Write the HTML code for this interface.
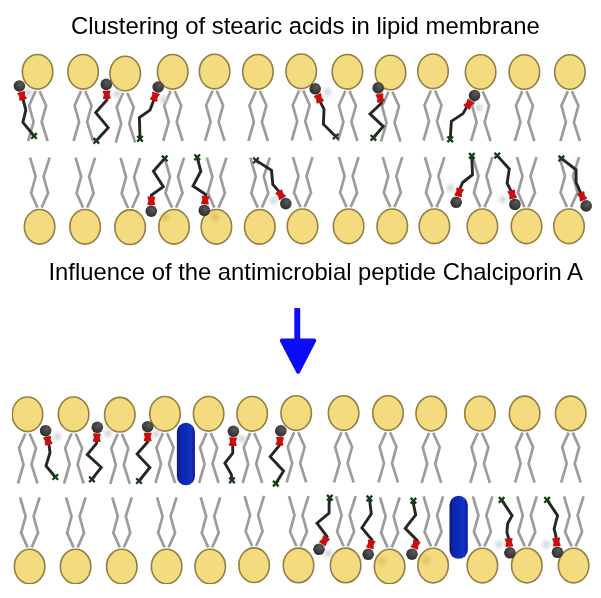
<!DOCTYPE html><html><head><meta charset="utf-8"><style>html,body{margin:0;padding:0;background:#fff}svg{display:block}</style></head><body>
<svg width="601" height="598" viewBox="0 0 601 598">
<defs><radialGradient id="ball" cx="0.6" cy="0.35" r="0.7"><stop offset="0" stop-color="#5a5a5a"/><stop offset="1" stop-color="#2a2a2a"/></radialGradient><filter id="soft" x="0" y="0" width="1" height="1"><feGaussianBlur stdDeviation="0.45"/></filter><radialGradient id="smudge"><stop offset="0" stop-color="#c09038" stop-opacity="0.35"/><stop offset="1" stop-color="#b09040" stop-opacity="0"/></radialGradient><radialGradient id="blob"><stop offset="0" stop-color="#c8ccd0" stop-opacity="0.8"/><stop offset="1" stop-color="#c8ccd0" stop-opacity="0"/></radialGradient><linearGradient id="cap" x1="0" x2="1" y1="0" y2="0"><stop offset="0" stop-color="#081478"/><stop offset="0.18" stop-color="#0c24a8"/><stop offset="0.5" stop-color="#0f2cb8"/><stop offset="0.8" stop-color="#1232c4"/><stop offset="1" stop-color="#0a188a"/></linearGradient></defs>
<rect width="601" height="598" fill="#fff"/>
<g filter="url(#soft)">
<g font-family="Liberation Sans, sans-serif" font-size="23.9" fill="#000">
<text x="71" y="33.8">Clustering of stearic acids in lipid membrane</text>
<text x="48.5" y="280.4" font-size="23.8">Influence of the antimicrobial peptide Chalciporin A</text>
</g>
<g fill="none" stroke="#9c9c9c" stroke-width="2.7" stroke-linejoin="miter">
<polyline points="35.6,91.0 29.1,105.5 33.6,122.0 28.1,141.0"/><polyline points="39.6,91.0 46.1,105.5 41.6,122.0 47.6,141.0"/>
<polyline points="81.1,91.0 74.6,105.5 79.1,122.0 73.6,141.0"/><polyline points="85.1,91.0 91.6,105.5 87.1,122.0 93.1,141.0"/>
<polyline points="123.2,92.7 116.7,107.2 121.2,123.7 115.7,142.7"/><polyline points="127.2,92.7 133.7,107.2 129.2,123.7 135.2,142.7"/>
<polyline points="170.7,91.0 164.2,105.5 168.7,122.0 163.2,141.0"/><polyline points="174.7,91.0 181.2,105.5 176.7,122.0 182.7,141.0"/>
<polyline points="212.6,90.8 206.1,105.3 210.6,121.8 205.1,140.8"/><polyline points="216.6,90.8 223.1,105.3 218.6,121.8 224.6,140.8"/>
<polyline points="255.9,91.0 249.4,105.5 253.9,122.0 248.4,141.0"/><polyline points="259.9,91.0 266.4,105.5 261.9,122.0 267.9,141.0"/>
<polyline points="299.2,90.5 292.7,105.0 297.2,121.5 291.7,140.5"/><polyline points="303.2,90.5 309.7,105.0 305.2,121.5 311.2,140.5"/>
<polyline points="345.4,91.0 338.9,105.5 343.4,122.0 337.9,141.0"/><polyline points="349.4,91.0 355.9,105.5 351.4,122.0 357.4,141.0"/>
<polyline points="388.5,91.7 382.0,106.2 386.5,122.7 381.0,141.7"/><polyline points="392.5,91.7 399.0,106.2 394.5,122.7 400.5,141.7"/>
<polyline points="431.0,90.5 424.5,105.0 429.0,121.5 423.5,140.5"/><polyline points="435.0,90.5 441.5,105.0 437.0,121.5 443.0,140.5"/>
<polyline points="478.6,91.2 472.1,105.7 476.6,122.2 471.1,141.2"/><polyline points="482.6,91.2 489.1,105.7 484.6,122.2 490.6,141.2"/>
<polyline points="522.4,91.2 515.9,105.7 520.4,122.2 514.9,141.2"/><polyline points="526.4,91.2 532.9,105.7 528.4,122.2 534.4,141.2"/>
<polyline points="567.9,91.2 561.4,105.7 565.9,122.2 560.4,141.2"/><polyline points="571.9,91.2 578.4,105.7 573.9,122.2 579.9,141.2"/>
<polyline points="37.6,207.6 31.1,193.1 35.6,176.6 30.1,157.6"/><polyline points="41.6,207.6 48.1,193.1 43.6,176.6 49.6,157.6"/>
<polyline points="83.1,207.6 76.6,193.1 81.1,176.6 75.6,157.6"/><polyline points="87.1,207.6 93.6,193.1 89.1,176.6 95.1,157.6"/>
<polyline points="128.1,208.0 121.6,193.5 126.1,177.0 120.6,158.0"/><polyline points="132.1,208.0 138.6,193.5 134.1,177.0 140.1,158.0"/>
<polyline points="172.0,207.6 165.5,193.1 170.0,176.6 164.5,157.6"/><polyline points="176.0,207.6 182.5,193.1 178.0,176.6 184.0,157.6"/>
<polyline points="214.4,207.6 207.9,193.1 212.4,176.6 206.9,157.6"/><polyline points="218.4,207.6 224.9,193.1 220.4,176.6 226.4,157.6"/>
<polyline points="257.8,207.6 251.3,193.1 255.8,176.6 250.3,157.6"/><polyline points="261.8,207.6 268.3,193.1 263.8,176.6 269.8,157.6"/>
<polyline points="300.5,207.1 294.0,192.6 298.5,176.1 293.0,157.1"/><polyline points="304.5,207.1 311.0,192.6 306.5,176.1 312.5,157.1"/>
<polyline points="346.6,207.1 340.1,192.6 344.6,176.1 339.1,157.1"/><polyline points="350.6,207.1 357.1,192.6 352.6,176.1 358.6,157.1"/>
<polyline points="390.3,207.1 383.8,192.6 388.3,176.1 382.8,157.1"/><polyline points="394.3,207.1 400.8,192.6 396.3,176.1 402.3,157.1"/>
<polyline points="432.4,207.1 425.9,192.6 430.4,176.1 424.9,157.1"/><polyline points="436.4,207.1 442.9,192.6 438.4,176.1 444.4,157.1"/>
<polyline points="480.4,207.1 473.9,192.6 478.4,176.1 472.9,157.1"/><polyline points="484.4,207.1 490.9,192.6 486.4,176.1 492.4,157.1"/>
<polyline points="524.5,207.1 518.0,192.6 522.5,176.1 517.0,157.1"/><polyline points="528.5,207.1 535.0,192.6 530.5,176.1 536.5,157.1"/>
<polyline points="567.0,207.1 560.5,192.6 565.0,176.1 559.5,157.1"/><polyline points="571.0,207.1 577.5,192.6 573.0,176.1 579.0,157.1"/>
<polyline points="25.5,433.5 19.0,448.0 23.5,464.5 18.0,483.5"/><polyline points="29.5,433.5 36.0,448.0 31.5,464.5 37.5,483.5"/>
<polyline points="71.6,433.5 65.1,448.0 69.6,464.5 64.1,483.5"/><polyline points="75.6,433.5 82.1,448.0 77.6,464.5 83.6,483.5"/>
<polyline points="117.8,433.9 111.3,448.4 115.8,464.9 110.3,483.9"/><polyline points="121.8,433.9 128.3,448.4 123.8,464.9 129.8,483.9"/>
<polyline points="163.0,433.0 156.5,447.5 161.0,464.0 155.5,483.0"/><polyline points="167.0,433.0 173.5,447.5 169.0,464.0 175.0,483.0"/>
<polyline points="206.6,433.0 200.1,447.5 204.6,464.0 199.1,483.0"/><polyline points="210.6,433.0 217.1,447.5 212.6,464.0 218.6,483.0"/>
<polyline points="250.2,433.0 243.7,447.5 248.2,464.0 242.7,483.0"/><polyline points="254.2,433.0 260.7,447.5 256.2,464.0 262.2,483.0"/>
<polyline points="294.2,432.3 287.7,446.8 292.2,463.3 286.7,482.3"/><polyline points="298.2,432.3 304.7,446.8 300.2,463.3 306.2,482.3"/>
<polyline points="341.6,432.3 335.1,446.8 339.6,463.3 334.1,482.3"/><polyline points="345.6,432.3 352.1,446.8 347.6,463.3 353.6,482.3"/>
<polyline points="386.0,432.3 379.5,446.8 384.0,463.3 378.5,482.3"/><polyline points="390.0,432.3 396.5,446.8 392.0,463.3 398.0,482.3"/>
<polyline points="429.2,432.8 422.7,447.3 427.2,463.8 421.7,482.8"/><polyline points="433.2,432.8 439.7,447.3 435.2,463.8 441.2,482.8"/>
<polyline points="477.9,432.8 471.4,447.3 475.9,463.8 470.4,482.8"/><polyline points="481.9,432.8 488.4,447.3 483.9,463.8 489.9,482.8"/>
<polyline points="522.6,432.6 516.1,447.1 520.6,463.6 515.1,482.6"/><polyline points="526.6,432.6 533.1,447.1 528.6,463.6 534.6,482.6"/>
<polyline points="568.7,432.6 562.2,447.1 566.7,463.6 561.2,482.6"/><polyline points="572.7,432.6 579.2,447.1 574.7,463.6 580.7,482.6"/>
<polyline points="27.6,547.4 21.1,532.9 25.6,516.4 20.1,497.4"/><polyline points="31.6,547.4 38.1,532.9 33.6,516.4 39.6,497.4"/>
<polyline points="73.6,547.4 67.1,532.9 71.6,516.4 66.1,497.4"/><polyline points="77.6,547.4 84.1,532.9 79.6,516.4 85.6,497.4"/>
<polyline points="119.8,547.4 113.3,532.9 117.8,516.4 112.3,497.4"/><polyline points="123.8,547.4 130.3,532.9 125.8,516.4 131.8,497.4"/>
<polyline points="164.6,547.4 158.1,532.9 162.6,516.4 157.1,497.4"/><polyline points="168.6,547.4 175.1,532.9 170.6,516.4 176.6,497.4"/>
<polyline points="208.2,547.4 201.7,532.9 206.2,516.4 200.7,497.4"/><polyline points="212.2,547.4 218.7,532.9 214.2,516.4 220.2,497.4"/>
<polyline points="252.1,546.0 245.6,531.5 250.1,515.0 244.6,496.0"/><polyline points="256.1,546.0 262.6,531.5 258.1,515.0 264.1,496.0"/>
<polyline points="296.5,546.2 290.0,531.7 294.5,515.2 289.0,496.2"/><polyline points="300.5,546.2 307.0,531.7 302.5,515.2 308.5,496.2"/>
<polyline points="343.6,546.2 337.1,531.7 341.6,515.2 336.1,496.2"/><polyline points="347.6,546.2 354.1,531.7 349.6,515.2 355.6,496.2"/>
<polyline points="387.6,547.4 381.1,532.9 385.6,516.4 380.1,497.4"/><polyline points="391.6,547.4 398.1,532.9 393.6,516.4 399.6,497.4"/>
<polyline points="431.1,546.4 424.6,531.9 429.1,515.4 423.6,496.4"/><polyline points="435.1,546.4 441.6,531.9 437.1,515.4 443.1,496.4"/>
<polyline points="480.4,546.4 473.9,531.9 478.4,515.4 472.9,496.4"/><polyline points="484.4,546.4 490.9,531.9 486.4,515.4 492.4,496.4"/>
<polyline points="524.8,546.4 518.3,531.9 522.8,515.4 517.3,496.4"/><polyline points="528.8,546.4 535.3,531.9 530.8,515.4 536.8,496.4"/>
<polyline points="571.6,546.4 565.1,531.9 569.6,515.4 564.1,496.4"/><polyline points="575.6,546.4 582.1,531.9 577.6,515.4 583.6,496.4"/>
</g>
<g fill="#f5db80" stroke="#927f42" stroke-width="1.6">
<ellipse cx="37.6" cy="71.8" rx="15.25" ry="17.3"/>
<ellipse cx="83.1" cy="71.8" rx="15.25" ry="17.3"/>
<ellipse cx="125.2" cy="73.5" rx="15.25" ry="17.3"/>
<ellipse cx="172.7" cy="71.8" rx="15.25" ry="17.3"/>
<ellipse cx="214.6" cy="71.6" rx="15.25" ry="17.3"/>
<ellipse cx="257.9" cy="71.8" rx="15.25" ry="17.3"/>
<ellipse cx="301.2" cy="71.3" rx="15.25" ry="17.3"/>
<ellipse cx="347.4" cy="71.8" rx="15.25" ry="17.3"/>
<ellipse cx="390.5" cy="72.5" rx="15.25" ry="17.3"/>
<ellipse cx="433.0" cy="71.3" rx="15.25" ry="17.3"/>
<ellipse cx="480.6" cy="72.0" rx="15.25" ry="17.3"/>
<ellipse cx="524.4" cy="72.0" rx="15.25" ry="17.3"/>
<ellipse cx="569.9" cy="72.0" rx="15.25" ry="17.3"/>
<ellipse cx="39.6" cy="226.8" rx="15.25" ry="17.3"/>
<ellipse cx="85.1" cy="226.8" rx="15.25" ry="17.3"/>
<ellipse cx="130.1" cy="227.2" rx="15.25" ry="17.3"/>
<ellipse cx="174.0" cy="226.8" rx="15.25" ry="17.3"/>
<ellipse cx="216.4" cy="226.8" rx="15.25" ry="17.3"/>
<ellipse cx="259.8" cy="226.8" rx="15.25" ry="17.3"/>
<ellipse cx="302.5" cy="226.3" rx="15.25" ry="17.3"/>
<ellipse cx="348.6" cy="226.3" rx="15.25" ry="17.3"/>
<ellipse cx="392.3" cy="226.3" rx="15.25" ry="17.3"/>
<ellipse cx="434.4" cy="226.3" rx="15.25" ry="17.3"/>
<ellipse cx="482.4" cy="226.3" rx="15.25" ry="17.3"/>
<ellipse cx="526.5" cy="226.3" rx="15.25" ry="17.3"/>
<ellipse cx="569.0" cy="226.3" rx="15.25" ry="17.3"/>
<ellipse cx="27.5" cy="414.3" rx="15.25" ry="17.3"/>
<ellipse cx="73.6" cy="414.3" rx="15.25" ry="17.3"/>
<ellipse cx="119.8" cy="414.7" rx="15.25" ry="17.3"/>
<ellipse cx="165.0" cy="413.8" rx="15.25" ry="17.3"/>
<ellipse cx="208.6" cy="413.8" rx="15.25" ry="17.3"/>
<ellipse cx="252.2" cy="413.8" rx="15.25" ry="17.3"/>
<ellipse cx="296.2" cy="413.1" rx="15.25" ry="17.3"/>
<ellipse cx="343.6" cy="413.1" rx="15.25" ry="17.3"/>
<ellipse cx="388.0" cy="413.1" rx="15.25" ry="17.3"/>
<ellipse cx="431.2" cy="413.6" rx="15.25" ry="17.3"/>
<ellipse cx="479.9" cy="413.6" rx="15.25" ry="17.3"/>
<ellipse cx="524.6" cy="413.4" rx="15.25" ry="17.3"/>
<ellipse cx="570.7" cy="413.4" rx="15.25" ry="17.3"/>
<ellipse cx="29.6" cy="566.6" rx="15.25" ry="17.3"/>
<ellipse cx="75.6" cy="566.6" rx="15.25" ry="17.3"/>
<ellipse cx="121.8" cy="566.6" rx="15.25" ry="17.3"/>
<ellipse cx="166.6" cy="566.6" rx="15.25" ry="17.3"/>
<ellipse cx="210.2" cy="566.6" rx="15.25" ry="17.3"/>
<ellipse cx="254.1" cy="565.2" rx="15.25" ry="17.3"/>
<ellipse cx="298.5" cy="565.4" rx="15.25" ry="17.3"/>
<ellipse cx="345.6" cy="565.4" rx="15.25" ry="17.3"/>
<ellipse cx="389.6" cy="566.6" rx="15.25" ry="17.3"/>
<ellipse cx="433.1" cy="565.6" rx="15.25" ry="17.3"/>
<ellipse cx="482.4" cy="565.6" rx="15.25" ry="17.3"/>
<ellipse cx="526.8" cy="565.6" rx="15.25" ry="17.3"/>
<ellipse cx="573.6" cy="565.6" rx="15.25" ry="17.3"/>
</g>
<circle cx="215" cy="217" r="7" fill="url(#smudge)"/>
<circle cx="165" cy="217" r="7" fill="url(#smudge)"/>
<circle cx="381.7" cy="561.7" r="7" fill="url(#smudge)"/>
<circle cx="425.8" cy="560" r="7" fill="url(#smudge)"/>
<circle cx="28" cy="93" r="6.5" fill="url(#blob)"/><polyline points="22.1,95.9 23.5,101 25.8,110.1 22.9,122.4 34,135.9" fill="none" stroke="#262626" stroke-width="2.9" stroke-linejoin="miter"/><g transform="translate(22.1,95.9) rotate(-15.3)"><path d="M-3.3,-4.2 L3.3,-4.2 Q4.1,-4.2 3.9,-3.3 L2.9,0 L3.9,3.3 Q4.1,4.2 3.3,4.2 L-3.3,4.2 Q-4.1,4.2 -3.9,3.3 L-2.9,0 L-3.9,-3.3 Q-4.1,-4.2 -3.3,-4.2 Z" fill="#cc1010"/></g><circle cx="19.4" cy="86" r="5.8" fill="url(#ball)"/><g transform="translate(34,135.9)" stroke="#183c18" stroke-width="2.3"><line x1="-2.8" y1="-2.8" x2="2.8" y2="2.8"/><line x1="-2.8" y1="2.8" x2="2.8" y2="-2.8"/></g>
<circle cx="117" cy="94" r="6.5" fill="url(#blob)"/><polyline points="106.7,94.7 106.9,100 95.7,112.6 108.2,127.6 96.3,140.8" fill="none" stroke="#262626" stroke-width="2.9" stroke-linejoin="miter"/><g transform="translate(106.7,94.7) rotate(-2.2)"><path d="M-3.3,-4.2 L3.3,-4.2 Q4.1,-4.2 3.9,-3.3 L2.9,0 L3.9,3.3 Q4.1,4.2 3.3,4.2 L-3.3,4.2 Q-4.1,4.2 -3.9,3.3 L-2.9,0 L-3.9,-3.3 Q-4.1,-4.2 -3.3,-4.2 Z" fill="#cc1010"/></g><circle cx="106.3" cy="84.4" r="5.8" fill="url(#ball)"/><g transform="translate(96.3,140.8)" stroke="#183c18" stroke-width="2.3"><line x1="-2.8" y1="-2.8" x2="2.8" y2="2.8"/><line x1="-2.8" y1="2.8" x2="2.8" y2="-2.8"/></g>
<circle cx="164" cy="100" r="6.5" fill="url(#blob)"/><polyline points="154.8,96.7 152.6,103.2 150,110.1 139.4,117.6 140,138.8" fill="none" stroke="#262626" stroke-width="2.9" stroke-linejoin="miter"/><g transform="translate(154.8,96.7) rotate(19.1)"><path d="M-3.3,-4.2 L3.3,-4.2 Q4.1,-4.2 3.9,-3.3 L2.9,0 L3.9,3.3 Q4.1,4.2 3.3,4.2 L-3.3,4.2 Q-4.1,4.2 -3.9,3.3 L-2.9,0 L-3.9,-3.3 Q-4.1,-4.2 -3.3,-4.2 Z" fill="#cc1010"/></g><circle cx="158.2" cy="87" r="5.8" fill="url(#ball)"/><g transform="translate(140,138.8)" stroke="#183c18" stroke-width="2.3"><line x1="-2.8" y1="-2.8" x2="2.8" y2="2.8"/><line x1="-2.8" y1="2.8" x2="2.8" y2="-2.8"/></g>
<circle cx="327.5" cy="92" r="6.5" fill="url(#blob)"/><polyline points="318.9,98.4 320.5,102.5 324,109 323.4,124.2 335.7,136.5" fill="none" stroke="#262626" stroke-width="2.9" stroke-linejoin="miter"/><g transform="translate(318.9,98.4) rotate(-21.1)"><path d="M-3.3,-4.2 L3.3,-4.2 Q4.1,-4.2 3.9,-3.3 L2.9,0 L3.9,3.3 Q4.1,4.2 3.3,4.2 L-3.3,4.2 Q-4.1,4.2 -3.9,3.3 L-2.9,0 L-3.9,-3.3 Q-4.1,-4.2 -3.3,-4.2 Z" fill="#cc1010"/></g><circle cx="315.2" cy="88.8" r="5.8" fill="url(#ball)"/><g transform="translate(335.7,136.5)" stroke="#183c18" stroke-width="2.3"><line x1="-2.8" y1="-2.8" x2="2.8" y2="2.8"/><line x1="-2.8" y1="2.8" x2="2.8" y2="-2.8"/></g>
<polyline points="380.2,98.0 381.3,103.2 370,113.9 383.2,126.4 373.4,137.8" fill="none" stroke="#262626" stroke-width="2.9" stroke-linejoin="miter"/><g transform="translate(380.2,98.0) rotate(-11.5)"><path d="M-3.3,-4.2 L3.3,-4.2 Q4.1,-4.2 3.9,-3.3 L2.9,0 L3.9,3.3 Q4.1,4.2 3.3,4.2 L-3.3,4.2 Q-4.1,4.2 -3.9,3.3 L-2.9,0 L-3.9,-3.3 Q-4.1,-4.2 -3.3,-4.2 Z" fill="#cc1010"/></g><circle cx="378.2" cy="87.9" r="5.8" fill="url(#ball)"/><g transform="translate(373.4,137.8)" stroke="#183c18" stroke-width="2.3"><line x1="-2.8" y1="-2.8" x2="2.8" y2="2.8"/><line x1="-2.8" y1="2.8" x2="2.8" y2="-2.8"/></g>
<circle cx="478.9" cy="107.7" r="6.5" fill="url(#blob)"/><polyline points="468.8,104.1 466,108.3 463,113.6 451.4,121.2 450.2,139.3" fill="none" stroke="#262626" stroke-width="2.9" stroke-linejoin="miter"/><g transform="translate(468.8,104.1) rotate(33.6)"><path d="M-3.3,-4.2 L3.3,-4.2 Q4.1,-4.2 3.9,-3.3 L2.9,0 L3.9,3.3 Q4.1,4.2 3.3,4.2 L-3.3,4.2 Q-4.1,4.2 -3.9,3.3 L-2.9,0 L-3.9,-3.3 Q-4.1,-4.2 -3.3,-4.2 Z" fill="#cc1010"/></g><circle cx="474.5" cy="95.5" r="5.8" fill="url(#ball)"/><g transform="translate(450.2,139.3)" stroke="#183c18" stroke-width="2.3"><line x1="-2.8" y1="-2.8" x2="2.8" y2="2.8"/><line x1="-2.8" y1="2.8" x2="2.8" y2="-2.8"/></g>
<polyline points="151.3,200.8 151.3,195.2 163.3,186.7 153.4,171.2 164.7,158.4" fill="none" stroke="#262626" stroke-width="2.9" stroke-linejoin="miter"/><g transform="translate(151.3,200.8) rotate(-180.0)"><path d="M-3.3,-4.2 L3.3,-4.2 Q4.1,-4.2 3.9,-3.3 L2.9,0 L3.9,3.3 Q4.1,4.2 3.3,4.2 L-3.3,4.2 Q-4.1,4.2 -3.9,3.3 L-2.9,0 L-3.9,-3.3 Q-4.1,-4.2 -3.3,-4.2 Z" fill="#cc1010"/></g><circle cx="151.3" cy="211.1" r="5.8" fill="url(#ball)"/><g transform="translate(164.7,158.4)" stroke="#183c18" stroke-width="2.3"><line x1="-2.8" y1="-2.8" x2="2.8" y2="2.8"/><line x1="-2.8" y1="2.8" x2="2.8" y2="-2.8"/></g>
<polyline points="205.2,200.1 205.7,194.5 193,186 200.8,171.2 197.2,157.3" fill="none" stroke="#262626" stroke-width="2.9" stroke-linejoin="miter"/><g transform="translate(205.2,200.1) rotate(-175.0)"><path d="M-3.3,-4.2 L3.3,-4.2 Q4.1,-4.2 3.9,-3.3 L2.9,0 L3.9,3.3 Q4.1,4.2 3.3,4.2 L-3.3,4.2 Q-4.1,4.2 -3.9,3.3 L-2.9,0 L-3.9,-3.3 Q-4.1,-4.2 -3.3,-4.2 Z" fill="#cc1010"/></g><circle cx="204.3" cy="210.4" r="5.8" fill="url(#ball)"/><g transform="translate(197.2,157.3)" stroke="#183c18" stroke-width="2.3"><line x1="-2.8" y1="-2.8" x2="2.8" y2="2.8"/><line x1="-2.8" y1="2.8" x2="2.8" y2="-2.8"/></g>
<circle cx="273.5" cy="200.6" r="6.5" fill="url(#blob)"/><polyline points="280.6,194.7 278.2,190.5 272.8,184.5 271.5,170.4 256,160.4" fill="none" stroke="#262626" stroke-width="2.9" stroke-linejoin="miter"/><g transform="translate(280.6,194.7) rotate(-210.1)"><path d="M-3.3,-4.2 L3.3,-4.2 Q4.1,-4.2 3.9,-3.3 L2.9,0 L3.9,3.3 Q4.1,4.2 3.3,4.2 L-3.3,4.2 Q-4.1,4.2 -3.9,3.3 L-2.9,0 L-3.9,-3.3 Q-4.1,-4.2 -3.3,-4.2 Z" fill="#cc1010"/></g><circle cx="285.8" cy="203.6" r="5.8" fill="url(#ball)"/><g transform="translate(256,160.4)" stroke="#183c18" stroke-width="2.3"><line x1="-2.8" y1="-2.8" x2="2.8" y2="2.8"/><line x1="-2.8" y1="2.8" x2="2.8" y2="-2.8"/></g>
<circle cx="450.6" cy="188.1" r="6.5" fill="url(#blob)"/><polyline points="459.1,192.4 460.5,187.4 462.6,182.5 472.5,174.7 471.8,155.8" fill="none" stroke="#262626" stroke-width="2.9" stroke-linejoin="miter"/><g transform="translate(459.1,192.4) rotate(-163.9)"><path d="M-3.3,-4.2 L3.3,-4.2 Q4.1,-4.2 3.9,-3.3 L2.9,0 L3.9,3.3 Q4.1,4.2 3.3,4.2 L-3.3,4.2 Q-4.1,4.2 -3.9,3.3 L-2.9,0 L-3.9,-3.3 Q-4.1,-4.2 -3.3,-4.2 Z" fill="#cc1010"/></g><circle cx="456.2" cy="202.3" r="5.8" fill="url(#ball)"/><g transform="translate(471.8,155.8)" stroke="#183c18" stroke-width="2.3"><line x1="-2.8" y1="-2.8" x2="2.8" y2="2.8"/><line x1="-2.8" y1="2.8" x2="2.8" y2="-2.8"/></g>
<circle cx="502.9" cy="199.5" r="6.5" fill="url(#blob)"/><polyline points="512.2,194.5 511.4,191.7 507.1,183.2 509.3,169 497.2,155.6" fill="none" stroke="#262626" stroke-width="2.9" stroke-linejoin="miter"/><g transform="translate(512.2,194.5) rotate(-195.4)"><path d="M-3.3,-4.2 L3.3,-4.2 Q4.1,-4.2 3.9,-3.3 L2.9,0 L3.9,3.3 Q4.1,4.2 3.3,4.2 L-3.3,4.2 Q-4.1,4.2 -3.9,3.3 L-2.9,0 L-3.9,-3.3 Q-4.1,-4.2 -3.3,-4.2 Z" fill="#cc1010"/></g><circle cx="514.9" cy="204.4" r="5.8" fill="url(#ball)"/><g transform="translate(497.2,155.6)" stroke="#183c18" stroke-width="2.3"><line x1="-2.8" y1="-2.8" x2="2.8" y2="2.8"/><line x1="-2.8" y1="2.8" x2="2.8" y2="-2.8"/></g>
<polyline points="582.1,196.4 580.2,191.9 576.1,182.5 576.1,169.8 561.4,158.4" fill="none" stroke="#262626" stroke-width="2.9" stroke-linejoin="miter"/><g transform="translate(582.1,196.4) rotate(-203.2)"><path d="M-3.3,-4.2 L3.3,-4.2 Q4.1,-4.2 3.9,-3.3 L2.9,0 L3.9,3.3 Q4.1,4.2 3.3,4.2 L-3.3,4.2 Q-4.1,4.2 -3.9,3.3 L-2.9,0 L-3.9,-3.3 Q-4.1,-4.2 -3.3,-4.2 Z" fill="#cc1010"/></g><circle cx="586.2" cy="205.9" r="5.8" fill="url(#ball)"/><g transform="translate(561.4,158.4)" stroke="#183c18" stroke-width="2.3"><line x1="-2.8" y1="-2.8" x2="2.8" y2="2.8"/><line x1="-2.8" y1="2.8" x2="2.8" y2="-2.8"/></g>
<circle cx="57.3" cy="436.6" r="6.5" fill="url(#blob)"/><polyline points="47.9,440.7 49.3,446.6 50,452.6 46,465.9 55.3,477" fill="none" stroke="#262626" stroke-width="2.9" stroke-linejoin="miter"/><g transform="translate(47.9,440.7) rotate(-13.1)"><path d="M-3.3,-4.2 L3.3,-4.2 Q4.1,-4.2 3.9,-3.3 L2.9,0 L3.9,3.3 Q4.1,4.2 3.3,4.2 L-3.3,4.2 Q-4.1,4.2 -3.9,3.3 L-2.9,0 L-3.9,-3.3 Q-4.1,-4.2 -3.3,-4.2 Z" fill="#cc1010"/></g><circle cx="45.6" cy="430.7" r="5.8" fill="url(#ball)"/><g transform="translate(55.3,477)" stroke="#183c18" stroke-width="2.3"><line x1="-2.8" y1="-2.8" x2="2.8" y2="2.8"/><line x1="-2.8" y1="2.8" x2="2.8" y2="-2.8"/></g>
<circle cx="107.9" cy="433.3" r="6.5" fill="url(#blob)"/><polyline points="96.8,437.6 96.6,443.3 87.3,454.6 101.2,467.3 91.9,479.3" fill="none" stroke="#262626" stroke-width="2.9" stroke-linejoin="miter"/><g transform="translate(96.8,437.6) rotate(2.5)"><path d="M-3.3,-4.2 L3.3,-4.2 Q4.1,-4.2 3.9,-3.3 L2.9,0 L3.9,3.3 Q4.1,4.2 3.3,4.2 L-3.3,4.2 Q-4.1,4.2 -3.9,3.3 L-2.9,0 L-3.9,-3.3 Q-4.1,-4.2 -3.3,-4.2 Z" fill="#cc1010"/></g><circle cx="97.3" cy="427.3" r="5.8" fill="url(#ball)"/><g transform="translate(91.9,479.3)" stroke="#183c18" stroke-width="2.3"><line x1="-2.8" y1="-2.8" x2="2.8" y2="2.8"/><line x1="-2.8" y1="2.8" x2="2.8" y2="-2.8"/></g>
<circle cx="156" cy="434" r="6.5" fill="url(#blob)"/><polyline points="147.7,437.0 147.7,442 137.1,454 149.9,467.5 139,481" fill="none" stroke="#262626" stroke-width="2.9" stroke-linejoin="miter"/><g transform="translate(147.7,437.0) rotate(0.0)"><path d="M-3.3,-4.2 L3.3,-4.2 Q4.1,-4.2 3.9,-3.3 L2.9,0 L3.9,3.3 Q4.1,4.2 3.3,4.2 L-3.3,4.2 Q-4.1,4.2 -3.9,3.3 L-2.9,0 L-3.9,-3.3 Q-4.1,-4.2 -3.3,-4.2 Z" fill="#cc1010"/></g><circle cx="147.7" cy="426.7" r="5.8" fill="url(#ball)"/><g transform="translate(139,481)" stroke="#183c18" stroke-width="2.3"><line x1="-2.8" y1="-2.8" x2="2.8" y2="2.8"/><line x1="-2.8" y1="2.8" x2="2.8" y2="-2.8"/></g>
<circle cx="241.9" cy="439" r="6.5" fill="url(#blob)"/><polyline points="232.9,441.6 232.7,445.4 232.7,453.2 224.9,463.1 231.3,474.4 232,480.3" fill="none" stroke="#262626" stroke-width="2.9" stroke-linejoin="miter"/><g transform="translate(232.9,441.6) rotate(2.8)"><path d="M-3.3,-4.2 L3.3,-4.2 Q4.1,-4.2 3.9,-3.3 L2.9,0 L3.9,3.3 Q4.1,4.2 3.3,4.2 L-3.3,4.2 Q-4.1,4.2 -3.9,3.3 L-2.9,0 L-3.9,-3.3 Q-4.1,-4.2 -3.3,-4.2 Z" fill="#cc1010"/></g><circle cx="233.4" cy="431.3" r="5.8" fill="url(#ball)"/><g transform="translate(232,480.3)" stroke="#183c18" stroke-width="2.3"><line x1="-2.8" y1="-2.8" x2="2.8" y2="2.8"/><line x1="-2.8" y1="2.8" x2="2.8" y2="-2.8"/></g>
<polyline points="279.8,441.2 279.4,445.4 270.2,456.7 283.6,470.9 275.8,483.6" fill="none" stroke="#262626" stroke-width="2.9" stroke-linejoin="miter"/><g transform="translate(279.8,441.2) rotate(5.5)"><path d="M-3.3,-4.2 L3.3,-4.2 Q4.1,-4.2 3.9,-3.3 L2.9,0 L3.9,3.3 Q4.1,4.2 3.3,4.2 L-3.3,4.2 Q-4.1,4.2 -3.9,3.3 L-2.9,0 L-3.9,-3.3 Q-4.1,-4.2 -3.3,-4.2 Z" fill="#cc1010"/></g><circle cx="280.8" cy="430.9" r="5.8" fill="url(#ball)"/><g transform="translate(275.8,483.6)" stroke="#183c18" stroke-width="2.3"><line x1="-2.8" y1="-2.8" x2="2.8" y2="2.8"/><line x1="-2.8" y1="2.8" x2="2.8" y2="-2.8"/></g>
<circle cx="328.4" cy="553.3" r="6.5" fill="url(#blob)"/><polyline points="324.5,540.6 327.1,536.5 317,523.2 329.1,513.1 329.1,503.7 329.8,497.7" fill="none" stroke="#262626" stroke-width="2.9" stroke-linejoin="miter"/><g transform="translate(324.5,540.6) rotate(-147.7)"><path d="M-3.3,-4.2 L3.3,-4.2 Q4.1,-4.2 3.9,-3.3 L2.9,0 L3.9,3.3 Q4.1,4.2 3.3,4.2 L-3.3,4.2 Q-4.1,4.2 -3.9,3.3 L-2.9,0 L-3.9,-3.3 Q-4.1,-4.2 -3.3,-4.2 Z" fill="#cc1010"/></g><circle cx="319" cy="549.3" r="5.8" fill="url(#ball)"/><g transform="translate(329.8,497.7)" stroke="#183c18" stroke-width="2.3"><line x1="-2.8" y1="-2.8" x2="2.8" y2="2.8"/><line x1="-2.8" y1="2.8" x2="2.8" y2="-2.8"/></g>
<polyline points="370.8,544.3 371.9,539.9 361.9,527.8 371.3,513.8 369.4,498.4" fill="none" stroke="#262626" stroke-width="2.9" stroke-linejoin="miter"/><g transform="translate(370.8,544.3) rotate(-165.6)"><path d="M-3.3,-4.2 L3.3,-4.2 Q4.1,-4.2 3.9,-3.3 L2.9,0 L3.9,3.3 Q4.1,4.2 3.3,4.2 L-3.3,4.2 Q-4.1,4.2 -3.9,3.3 L-2.9,0 L-3.9,-3.3 Q-4.1,-4.2 -3.3,-4.2 Z" fill="#cc1010"/></g><circle cx="368.2" cy="554.3" r="5.8" fill="url(#ball)"/><g transform="translate(369.4,498.4)" stroke="#183c18" stroke-width="2.3"><line x1="-2.8" y1="-2.8" x2="2.8" y2="2.8"/><line x1="-2.8" y1="2.8" x2="2.8" y2="-2.8"/></g>
<polyline points="415.6,544.6 417.2,540.4 405.2,528.4 415.7,514.9 413.4,503.7 413.4,500.7" fill="none" stroke="#262626" stroke-width="2.9" stroke-linejoin="miter"/><g transform="translate(415.6,544.6) rotate(-159.4)"><path d="M-3.3,-4.2 L3.3,-4.2 Q4.1,-4.2 3.9,-3.3 L2.9,0 L3.9,3.3 Q4.1,4.2 3.3,4.2 L-3.3,4.2 Q-4.1,4.2 -3.9,3.3 L-2.9,0 L-3.9,-3.3 Q-4.1,-4.2 -3.3,-4.2 Z" fill="#cc1010"/></g><circle cx="412" cy="554.2" r="5.8" fill="url(#ball)"/><g transform="translate(413.4,500.7)" stroke="#183c18" stroke-width="2.3"><line x1="-2.8" y1="-2.8" x2="2.8" y2="2.8"/><line x1="-2.8" y1="2.8" x2="2.8" y2="-2.8"/></g>
<circle cx="499" cy="544.4" r="6.5" fill="url(#blob)"/><polyline points="509.0,542.5 508.6,538.3 506.9,532.2 507.7,523.5 512.1,515.6 501.6,499.9" fill="none" stroke="#262626" stroke-width="2.9" stroke-linejoin="miter"/><g transform="translate(509.0,542.5) rotate(-185.1)"><path d="M-3.3,-4.2 L3.3,-4.2 Q4.1,-4.2 3.9,-3.3 L2.9,0 L3.9,3.3 Q4.1,4.2 3.3,4.2 L-3.3,4.2 Q-4.1,4.2 -3.9,3.3 L-2.9,0 L-3.9,-3.3 Q-4.1,-4.2 -3.3,-4.2 Z" fill="#cc1010"/></g><circle cx="509.9" cy="552.8" r="5.8" fill="url(#ball)"/><g transform="translate(501.6,499.9)" stroke="#183c18" stroke-width="2.3"><line x1="-2.8" y1="-2.8" x2="2.8" y2="2.8"/><line x1="-2.8" y1="2.8" x2="2.8" y2="-2.8"/></g>
<circle cx="546.2" cy="544.4" r="6.5" fill="url(#blob)"/><polyline points="556.5,542.1 555.8,535.7 554.1,528.7 557.6,515.6 547.1,499.9" fill="none" stroke="#262626" stroke-width="2.9" stroke-linejoin="miter"/><g transform="translate(556.5,542.1) rotate(-185.8)"><path d="M-3.3,-4.2 L3.3,-4.2 Q4.1,-4.2 3.9,-3.3 L2.9,0 L3.9,3.3 Q4.1,4.2 3.3,4.2 L-3.3,4.2 Q-4.1,4.2 -3.9,3.3 L-2.9,0 L-3.9,-3.3 Q-4.1,-4.2 -3.3,-4.2 Z" fill="#cc1010"/></g><circle cx="557.5" cy="552.3" r="5.8" fill="url(#ball)"/><g transform="translate(547.1,499.9)" stroke="#183c18" stroke-width="2.3"><line x1="-2.8" y1="-2.8" x2="2.8" y2="2.8"/><line x1="-2.8" y1="2.8" x2="2.8" y2="-2.8"/></g>
<rect x="176.9" y="422.8" width="18" height="62.5" rx="9" ry="9" fill="url(#cap)"/>
<rect x="449.5" y="495.8" width="18.3" height="63" rx="9.1" ry="9.1" fill="url(#cap)"/>
<rect x="294.3" y="308.1" width="5.9" height="32" fill="#0a0af5"/>
<polygon points="281.8,340.5 314.2,340.5 298.2,371.7" fill="#0a0af5" stroke="#0a0af5" stroke-width="4" stroke-linejoin="round"/>
</g>
</svg></body></html>
